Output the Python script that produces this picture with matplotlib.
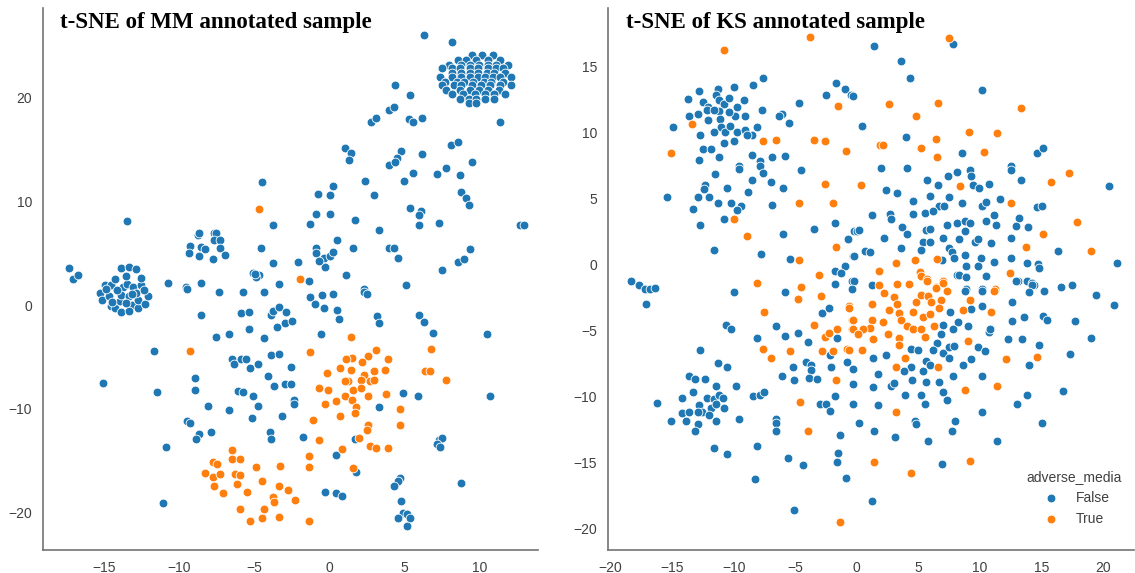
import numpy as np
import matplotlib.pyplot as plt

BLUE = "#1f77b4"
ORANGE = "#ff7f0e"

# t-SNE coordinates, (x, y)
mm_false = [
    # left blob
    (-15.3, 1.2), (-15.0, 1.9), (-14.6, 1.9), (-13.8, 1.7), (-13.5, 2.0), (-13.1, 1.7), (-12.6, 1.9),
    (-15.2, 0.5), (-14.7, 0.9), (-14.6, -0.1), (-14.3, -0.3), (-14.0, 0.4), (-13.9, 1.0), (-13.4, 0.9),
    (-13.2, 0.0), (-12.8, -0.3), (-12.8, 0.5), (-12.3, 0.1), (-12.1, 0.9), (-12.9, 1.2), (-13.9, -0.7),
    (-13.4, -0.6), (-13.9, 3.6), (-13.4, 3.7), (-12.9, 3.5), (-14.3, 2.5), (-13.6, 2.8), (-12.6, 2.6),
    (-14.9, 1.5), (-12.4, 1.4), (-14.2, 1.4), (-13.2, 1.1), (-13.6, 0.2), (-14.5, 0.3),
    # upper left
    (-17.4, 3.6), (-17.1, 2.5), (-16.8, 2.9), (-13.5, 8.1), (-10.8, 2.1), (-9.6, 1.7), (-9.5, 1.5),
    (-8.8, 6.7), (-8.7, 6.9), (-9.3, 5.7), (-8.6, 5.6), (-8.3, 5.4), (-9.4, 5.0), (-8.7, 4.7),
    (-7.7, 6.9), (-7.6, 6.9), (-7.7, 6.3), (-7.3, 6.3), (-7.3, 5.5), (-7.8, 4.4), (-7.0, 4.8),
    (-8.6, 2.1), (-7.4, 1.3), (-5.8, 1.3), (-4.5, 11.8), (-3.8, 7.7), (-4.6, 5.5), (-3.8, 4.0),
    (-3.4, 2.0), (-5.1, 3.1), (-4.7, 2.9), (-4.9, 2.7), (-5.0, 3.0), (-2.1, 4.1), (-4.4, 1.3), (-1.4, 2.3),
    # upper right blob
    (6.3, 26.0), (8.2, 25.3),
    (9.5, 24.1), (10.2, 24.1), (10.9, 24.1),
    (8.6, 23.6), (9.1, 23.6), (9.8, 23.6), (10.6, 23.6), (11.4, 23.6),
    (8.0, 23.1), (8.8, 23.1), (9.4, 23.1), (10.0, 23.1), (10.6, 23.1), (11.1, 23.1), (11.9, 23.1),
    (7.5, 22.8), (8.2, 22.8), (8.7, 22.8), (9.4, 22.8), (9.9, 22.8), (10.6, 22.8), (11.1, 22.8), (11.6, 22.8),
    (8.2, 22.3), (8.8, 22.3), (9.4, 22.3), (9.9, 22.3), (10.5, 22.3), (11.0, 22.3), (11.7, 22.3),
    (7.4, 22.0), (8.2, 22.0), (8.8, 22.0), (9.4, 22.0), (9.9, 22.0), (10.4, 22.0), (10.9, 22.0), (11.4, 22.0), (12.1, 22.0),
    (7.7, 21.5), (8.5, 21.5), (9.0, 21.5), (9.6, 21.5), (10.3, 21.5), (10.8, 21.5), (11.6, 21.5),
    (7.5, 21.2), (8.3, 21.2), (8.8, 21.2), (9.5, 21.2), (10.1, 21.2), (10.7, 21.2), (11.4, 21.2), (12.1, 21.2),
    (7.8, 20.7), (8.7, 20.7), (9.4, 20.7), (10.0, 20.7), (10.6, 20.7), (11.3, 20.7),
    (8.2, 20.3), (8.9, 20.3), (9.7, 20.3), (10.4, 20.3), (11.0, 20.3), (11.7, 20.3),
    (8.7, 19.8), (9.3, 19.8), (9.8, 19.8), (10.4, 19.8), (11.0, 19.8),
    (9.3, 19.5), (9.8, 19.5),
    # middle
    (4.4, 21.2), (5.4, 20.2), (4.0, 18.8), (4.3, 19.1), (2.8, 17.6), (3.1, 18.0), (5.3, 17.9), (5.6, 17.6),
    (6.2, 18.0), (11.4, 17.6), (1.0, 15.1), (1.4, 14.6), (1.3, 14.0), (4.8, 14.8), (4.5, 14.2), (4.0, 13.5),
    (4.4, 13.8), (6.2, 14.5), (8.1, 15.4), (8.6, 15.7), (9.5, 13.8), (5.6, 12.7), (5.0, 11.9), (7.2, 12.6),
    (7.8, 13.2), (8.7, 12.5), (2.4, 11.9), (0.2, 11.5), (0.0, 10.6), (-0.8, 10.7), (3.0, 10.6), (8.8, 10.9),
    (9.1, 10.3), (9.3, 9.6), (5.4, 9.3), (6.1, 9.1), (6.0, 8.7), (-0.9, 8.8), (0.0, 8.8), (-1.3, 7.8),
    (1.7, 8.2), (3.3, 7.2), (6.0, 7.7), (7.3, 7.9), (12.7, 7.7), (13.0, 7.7), (0.5, 6.3), (-0.9, 5.5),
    (-0.9, 5.0), (-0.4, 4.5), (0.0, 4.7), (0.2, 5.1), (-0.3, 3.7), (-0.7, 4.2), (1.6, 5.5), (4.0, 5.5),
    (4.3, 5.5), (4.6, 4.5), (9.4, 5.4), (8.6, 4.1), (9.0, 4.4), (1.1, 2.9), (7.5, 3.4), (5.1, 1.9), (2.3, 1.5),
    # lower left
    (-8.6, -1.0), (-5.9, -0.8), (-5.4, -0.7), (-5.4, -2.3), (-3.9, -1.0), (-3.8, -0.6), (-3.4, -0.2),
    (-2.9, -0.7), (-3.5, -2.1), (-3.0, -1.7), (-7.6, -3.1), (-6.7, -2.8), (-4.4, -3.2), (-11.7, -4.4),
    (-6.5, -5.2), (-6.4, -5.7), (-5.9, -5.2), (-5.6, -5.2), (-5.3, -6.1), (-4.8, -5.7), (-3.9, -4.8),
    (-3.4, -4.7), (-2.6, -6.0), (-4.1, -6.8), (-3.7, -7.8), (-3.0, -7.6), (-2.6, -7.6), (-15.1, -7.5),
    (-11.5, -8.4), (-9.0, -7.0), (-9.0, -8.2), (-6.1, -8.3), (-5.8, -8.4), (-5.1, -8.8), (-8.1, -9.7),
    (-6.7, -10.1), (-4.8, -9.7), (-5.2, -10.9), (-3.2, -10.7), (-9.5, -11.2), (-9.3, -11.4), (-7.9, -12.2),
    (-8.7, -12.4), (-8.9, -12.9), (-4.0, -12.2), (-3.9, -12.9), (-10.9, -13.7), (-11.1, -19.1),
    # lower right
    (2.3, 1.3), (2.5, 1.1), (0.2, 1.1), (-0.5, 1.0), (-1.3, 0.8), (-1.0, 0.1), (-0.4, -0.3), (0.5, -0.5),
    (0.6, -1.3), (-2.5, -1.5), (3.2, -1.1), (3.3, -1.7), (6.0, -1.0), (6.3, -1.6), (6.9, -2.7), (10.5, -2.8),
    (-0.6, -2.8), (4.9, -8.5), (5.9, -8.8), (3.3, -9.8), (10.7, -8.8), (-1.8, -12.7), (1.7, -12.9),
    (0.4, -14.4), (1.8, -16.1), (7.3, -13.0), (7.5, -12.8), (7.2, -13.4), (7.4, -13.7), (8.8, -17.1),
    (4.7, -16.7), (4.6, -16.9), (4.3, -17.4), (4.8, -18.9), (4.9, -20.0), (5.2, -20.1), (4.6, -20.5),
    (5.4, -20.5), (5.2, -21.3), (-0.3, -18.0), (0.4, -18.1), (0.8, -18.4), (-2.4, -9.1), (-2.4, -9.5),
]

mm_true = [
    (-4.7, 9.2), (-2.0, 2.5), (-9.3, -4.4),
    (-6.5, -14.0), (-6.5, -14.8), (-6.0, -14.8), (-7.8, -15.1), (-7.5, -15.3), (-8.3, -16.2), (-7.8, -16.6),
    (-7.3, -16.3), (-6.3, -16.3), (-6.0, -16.4), (-4.9, -15.6), (-3.3, -15.5), (-4.5, -16.9), (-6.2, -17.2),
    (-7.7, -17.4), (-7.1, -18.1), (-5.5, -18.0), (-3.4, -17.4), (-2.8, -17.8), (-3.8, -18.5), (-3.7, -19.0),
    (-6.0, -19.6), (-4.4, -19.6), (-3.4, -20.4), (-4.5, -20.5), (-5.3, -20.8),
    (1.4, -3.1), (-1.3, -4.5), (6.8, -4.2), (3.1, -4.3), (2.6, -4.9), (3.9, -5.2), (2.2, -5.5), (1.5, -5.1),
    (1.1, -5.2), (0.7, -6.1), (1.4, -6.3), (-0.2, -6.5), (2.3, -6.7), (3.0, -6.4), (3.7, -6.3), (2.1, -7.2),
    (2.7, -7.3), (3.0, -7.2), (1.2, -7.3), (1.0, -7.3), (-0.7, -8.0), (-0.1, -8.2), (1.6, -8.2), (2.1, -8.0),
    (1.0, -8.8), (2.6, -8.8), (3.8, -8.6), (0.4, -9.2), (1.5, -9.1), (-0.3, -9.5), (1.8, -9.8), (1.7, -10.4),
    (0.7, -10.7), (-1.1, -11.1), (4.7, -10.0), (4.7, -11.6), (2.6, -11.6), (2.5, -12.0), (2.0, -12.8),
    (2.7, -13.6), (3.1, -13.8), (3.9, -13.8), (0.8, -13.9), (-0.7, -13.0), (-1.4, -14.5), (-1.4, -15.6),
    (1.6, -15.7), (-2.3, -18.8), (-1.4, -20.8), (6.4, -6.4), (6.7, -6.4), (7.8, -7.2),
]

ks_false = [
    # upper left group
    (-14.9, 10.4), (-15.4, 5.1), (-13.7, 12.5), (-12.8, 13.1), (-13.6, 11.2), (-12.9, 11.4), (-12.5, 12.3),
    (-12.1, 11.9), (-12.2, 11.7), (-11.3, 13.3), (-11.4, 12.8), (-11.2, 12.4), (-10.8, 12.1), (-10.4, 12.6),
    (-10.0, 13.4), (-9.7, 11.9), (-9.2, 12.4), (-9.9, 11.2), (-10.4, 11.5), (-11.2, 11.6), (-11.6, 11.7),
    (-12.1, 10.9), (-11.1, 11.0), (-11.0, 10.4), (-10.7, 10.0), (-10.3, 10.5), (-9.7, 10.0), (-9.1, 11.2),
    (-9.1, 10.2), (-8.5, 9.8), (-8.9, 9.8), (-8.4, 13.6), (-7.6, 14.1), (-7.7, 11.7), (-8.1, 10.4),
    (-11.6, 10.0), (-12.7, 9.8), (-12.5, 8.7), (-11.8, 8.7), (-10.8, 9.2), (-10.0, 9.3), (-11.2, 8.1),
    (-12.8, 7.9), (-8.5, 8.3), (-7.9, 7.8), (-7.9, 7.4), (-7.6, 6.9), (-9.6, 7.4), (-9.6, 7.2), (-6.9, 8.1),
    (-5.8, 8.2), (-4.5, 7.1), (-11.5, 6.8), (-12.3, 6.0), (-12.4, 5.7), (-10.5, 5.8), (-8.5, 6.4),
    (-7.0, 6.2), (-6.0, 5.8), (-8.8, 5.5), (-12.9, 5.1), (-12.0, 5.1), (-11.3, 4.6), (-10.2, 4.6),
    (-9.4, 4.4), (-9.7, 4.1), (-13.3, 4.2), (-6.9, 4.5), (-10.8, 3.4), (-12.7, 3.0), (-11.6, 1.1),
    (-7.8, 0.8), (-6.0, 2.3), (-5.4, 0.4), (-3.5, 2.7), (-1.8, 3.1), (-0.7, 1.9), (-0.3, 0.6), (-1.0, -0.1),
    (-1.8, -0.5), (-1.3, -0.7), (-0.4, -1.3), (-1.8, -1.5), (-6.1, 11.4), (-6.3, 11.2), (-5.5, 10.7),
    (-4.7, 12.2), (-2.5, 12.8), (-1.7, 13.7), (-1.0, 13.3), (-0.5, 12.8), (-0.3, 12.7), (-0.2, 2.5),
    # upper right
    (1.4, 16.5), (7.8, 16.7), (3.6, 15.4), (4.3, 14.1), (10.2, 13.2), (0.4, 10.5), (4.0, 9.6), (8.5, 8.4),
    (14.6, 8.4), (15.1, 8.8), (2.0, 7.3), (4.1, 7.3), (5.7, 6.4), (6.6, 6.0), (7.4, 6.7), (8.1, 7.0),
    (9.2, 7.1), (9.3, 6.7), (9.4, 6.0), (9.9, 5.8), (10.7, 6.1), (12.5, 7.4), (12.5, 7.1), (13.3, 6.4),
    (20.5, 5.9), (2.4, 5.6), (3.3, 5.4), (4.6, 4.8), (5.9, 5.2), (6.7, 4.4), (7.1, 4.4), (7.5, 5.1),
    (8.5, 4.6), (10.2, 4.4), (10.5, 4.7), (11.6, 4.9), (14.6, 4.3), (15.0, 4.4), (1.2, 3.7), (2.7, 3.8),
    (2.8, 3.4), (4.6, 3.8), (5.5, 3.9), (6.2, 4.0), (7.3, 3.0), (8.1, 3.1), (8.8, 3.3), (9.2, 3.1),
    (10.5, 3.3), (11.1, 3.7), (11.3, 3.0), (13.2, 3.5), (12.9, 2.9), (13.9, 2.8), (0.0, 2.5), (0.2, 2.6),
    (3.7, 2.8), (4.1, 2.3), (5.6, 2.6), (5.9, 2.7), (8.8, 2.5), (2.2, 2.0), (5.4, 1.7), (5.9, 1.7),
    (7.0, 2.0), (8.3, 1.9), (9.6, 1.7), (9.8, 1.9), (10.9, 1.6), (12.5, 2.0), (16.3, 1.0), (21.1, 0.1),
    (3.6, 1.2), (5.2, 1.1), (7.5, 1.2), (7.7, 0.9), (7.9, 0.5), (6.9, 0.3), (8.8, 0.7), (10.1, 0.5),
    (11.1, 0.2), (12.5, 0.5), (13.8, 0.1), (14.7, 0.0), (14.8, -0.3), (-0.2, 0.6), (0.7, 1.0), (1.1, 0.9),
    (8.9, -0.1), (9.8, -0.1), (8.1, -0.8), (8.3, -0.8), (8.9, -1.0), (10.5, -0.9), (-0.2, -1.3), (1.2, -1.6),
    (13.1, -1.3), (13.8, -1.3), (14.2, -1.4), (14.4, -1.6), (16.6, -1.7), (17.5, -1.6), (8.9, -1.9), (10.2, -1.9),
    # lower left
    (-18.3, -1.3), (-17.7, -1.6), (-17.2, -1.9), (-16.8, -1.9), (-16.4, -1.8), (-17.1, -3.0), (-10.0, -2.1),
    (-5.8, -2.1), (-0.4, -1.9), (-2.8, -3.7), (-2.3, -3.3), (-10.6, -4.6), (-10.2, -4.9), (-6.6, -4.7),
    (-8.1, -5.6), (-5.8, -5.4), (-4.8, -5.2), (-4.0, -5.9), (-1.6, -5.6), (-2.2, -6.9), (-0.8, -7.4),
    (-0.3, -7.9), (-12.7, -6.5), (-11.3, -7.5), (-10.5, -7.8), (-13.6, -8.5), (-13.1, -8.7), (-12.3, -8.7),
    (-11.4, -9.2), (-9.8, -9.2), (-13.3, -9.7), (-14.2, -10.1), (-12.2, -10.1), (-11.6, -10.2),
    (-11.2, -9.9), (-10.9, -10.1), (-16.2, -10.5), (-12.8, -10.7), (-12.6, -11.2), (-11.8, -10.9),
    (-11.4, -10.6), (-10.8, -10.9), (-14.2, -11.3), (-13.6, -11.2), (-12.9, -11.2), (-12.0, -11.4),
    (-11.4, -11.9), (-15.1, -11.9), (-13.9, -11.9), (-12.9, -12.1), (-9.6, -11.7), (-13.1, -12.6),
    (-11.6, -13.9), (-10.5, -14.4), (-6.1, -8.5), (-5.1, -8.8), (-5.2, -7.8), (-4.1, -7.4), (-3.7, -7.6),
    (-3.7, -8.0), (-3.9, -8.6), (-3.2, -8.7), (-2.1, -7.8), (-0.3, -9.1), (-8.4, -10.0), (-7.9, -9.9),
    (-7.5, -9.7), (-3.0, -10.6), (-2.5, -10.6), (-2.2, -11.1), (-1.8, -10.0), (-0.3, -10.6), (-6.6, -11.7),
    (-6.6, -12.0), (-6.6, -12.6), (-1.4, -12.9), (-8.1, -13.8), (-1.5, -14.3), (-1.6, -15.0), (-5.6, -14.7),
    (-4.4, -15.2), (-0.9, -16.2), (-8.3, -16.3), (-5.1, -18.6),
    # lower right
    (12.9, -1.3), (14.2, -1.6), (14.0, -2.1), (15.2, -2.0), (19.4, -2.3), (20.9, -3.1), (8.8, -2.0),
    (10.2, -2.0), (7.6, -3.6), (8.2, -4.4), (7.8, -4.9), (7.0, -4.6), (6.8, -5.3), (9.0, -4.7), (9.3, -3.4),
    (10.2, -3.2), (10.7, -5.1), (10.8, -4.9), (12.6, -2.9), (12.6, -4.3), (13.6, -4.0), (15.1, -3.9),
    (15.4, -4.2), (17.7, -4.3), (12.3, -5.7), (13.4, -5.7), (14.8, -6.1), (19.0, -5.6), (17.3, -6.8),
    (14.0, -7.6), (6.5, -6.0), (6.2, -6.5), (7.0, -6.7), (7.5, -6.3), (7.9, -6.2), (4.4, -6.4), (5.0, -6.5),
    (5.6, -7.3), (5.9, -7.6), (5.4, -8.1), (4.4, -7.8), (3.8, -8.1), (4.5, -8.8), (5.6, -8.9), (6.7, -8.9),
    (7.5, -7.1), (8.6, -7.6), (9.3, -7.2), (9.8, -6.3), (10.4, -6.6), (7.8, -8.5), (10.2, -8.5), (2.4, -6.9),
    (1.3, -7.1), (1.7, -8.3), (1.3, -9.3), (2.8, -9.2), (3.0, -9.0), (3.9, -9.9), (5.2, -9.9), (7.0, -9.7),
    (7.3, -10.3), (5.5, -10.6), (1.7, -10.7), (0.2, -12.0), (1.4, -12.6), (4.7, -11.9), (4.8, -12.1),
    (8.0, -11.9), (7.7, -12.6), (10.2, -11.2), (13.8, -9.9), (13.0, -10.6), (16.7, -9.6), (15.0, -12.0),
    (3.1, -13.1), (5.8, -13.4), (11.4, -13.4), (6.9, -15.1), (1.2, -17.9),
]

ks_true = [
    (-10.8, 16.2), (-3.8, 17.2), (-13.4, 10.6), (-15.1, 8.4), (-7.6, 9.3), (-6.6, 9.4), (-3.5, 9.4),
    (-2.6, 9.3), (-1.5, 12.0), (-0.9, 8.6), (-2.6, 6.1), (-4.7, 4.6), (-1.9, 4.6), (-10.0, 3.4), (-8.9, 2.1),
    (-1.7, 1.3), (-4.7, 0.3), (-3.1, -0.8), (-8.1, -1.4), (-4.5, -1.7),
    (7.5, 17.1), (2.6, 12.1), (6.6, 12.2), (4.8, 11.2), (13.3, 11.8), (9.1, 10.0), (11.4, 9.9), (6.4, 9.5),
    (1.9, 9.0), (2.1, 9.0), (5.2, 8.8), (6.5, 8.1), (10.3, 8.5), (0.3, 6.0), (8.4, 5.9), (17.2, 6.9),
    (15.8, 6.2), (12.5, 4.6), (17.9, 3.2), (15.1, 2.3), (13.7, 1.3), (19.0, 1.0), (6.5, 0.4), (3.2, 0.1),
    (1.8, -0.5), (4.7, 0.3), (5.1, -0.6), (5.2, -0.9), (5.7, -1.1), (12.4, -0.7), (1.8, -1.6), (3.3, -1.5),
    (4.2, -1.5), (6.4, -1.7), (7.0, -1.3), (11.2, -1.9),
    (-4.8, -2.6), (-2.9, -2.4), (-0.6, -3.2), (-0.4, -4.2), (-0.4, -4.9), (-7.5, -3.6), (-3.5, -4.6),
    (-1.6, -4.9), (-2.6, -5.5), (-2.3, -5.2), (-7.6, -6.4), (-7.0, -7.1), (-5.4, -6.6), (-2.8, -6.6),
    (-1.9, -6.6), (-0.8, -6.4), (-1.7, -8.8), (-4.6, -10.4), (-4.0, -12.6), (-1.4, -19.5),
    (5.7, -1.3), (6.4, -1.8), (7.0, -1.4), (7.3, -2.0), (6.8, -2.7), (6.7, -3.3), (2.2, -2.2), (3.0, -2.5),
    (3.3, -3.0), (2.6, -3.5), (3.4, -3.7), (3.6, -4.2), (4.1, -4.7), (4.6, -4.9), (5.2, -4.9), (5.5, -5.5),
    (6.3, -4.7), (4.8, -2.9), (5.2, -2.3), (5.8, -2.4), (6.0, -2.9), (4.6, -3.6), (5.4, -4.0), (5.9, -3.8),
    (1.2, -3.0), (-0.6, -3.3), (-0.3, -4.2), (1.2, -4.2), (1.1, -4.8), (2.1, -4.4), (0.5, -4.9), (-0.3, -4.9),
    (0.1, -5.3), (2.5, -5.3), (1.3, -5.7), (3.4, -5.6), (3.4, -6.1), (0.4, -6.5), (-0.6, -6.5), (3.9, -7.1),
    (3.2, -7.8), (6.6, -7.8), (9.0, -5.8), (8.6, -3.5), (9.2, -2.7), (10.9, -3.6), (11.1, -2.0), (12.1, -7.2),
    (14.6, -7.0), (8.8, -9.5), (11.4, -9.2), (3.2, -11.2), (1.4, -15.0), (4.4, -15.8), (9.2, -14.9),
]

mm_xticks = [-15, -10, -5, 0, 5, 10]
mm_yticks = [-20, -10, 0, 10, 20]
ks_xticks = [-20, -15, -10, -5, 0, 5, 10, 15, 20]
ks_yticks = [-20, -15, -10, -5, 0, 5, 10, 15]

plt.rcParams['font.family'] = ['Liberation Sans', 'DejaVu Sans']

fig = plt.figure(figsize=(11.35, 5.73), dpi=100)
ax1 = fig.add_axes([0.0379, 0.040, 0.4361, 0.946])
ax2 = fig.add_axes([0.5357, 0.040, 0.4634, 0.946])


def draw(ax, false_pts, true_pts, title, xlim, ylim, xticks, yticks):
    f = np.array(false_pts)
    t = np.array(true_pts)
    ax.scatter(f[:, 0], f[:, 1], s=40, color=BLUE, edgecolors="white", linewidths=0.6, label="False")
    ax.scatter(t[:, 0], t[:, 1], s=40, color=ORANGE, edgecolors="white", linewidths=0.6, label="True")
    ax.set_xlim(*xlim)
    ax.set_ylim(*ylim)
    ax.set_xticks(xticks)
    ax.set_yticks(yticks)
    ax.xaxis.set_major_formatter(plt.FuncFormatter(lambda v, p: f"{v:.0f}".replace("-", "\u2212")))
    ax.yaxis.set_major_formatter(plt.FuncFormatter(lambda v, p: f"{v:.0f}".replace("-", "\u2212")))
    for side in ["top", "right"]:
        ax.spines[side].set_visible(False)
    for side in ["left", "bottom"]:
        ax.spines[side].set_color("0.45")
        ax.spines[side].set_linewidth(1.2)
    ax.tick_params(length=0, labelsize=10, labelcolor="0.25", pad=8)
    ax.text(0.034, 0.974, title, transform=ax.transAxes, fontsize=16.5, fontweight="bold",
            family="Liberation Serif", va="center", ha="left")


draw(ax1, mm_false, mm_true, "t-SNE of MM annotated sample", (-19.1, 13.9), (-23.6, 28.6), mm_xticks, mm_yticks)
draw(ax2, ks_false, ks_true, "t-SNE of KS annotated sample", (-20.2, 22.5), (-21.65, 19.4), ks_xticks, ks_yticks)

leg = ax2.legend(title="adverse_media", frameon=False, loc="lower right", bbox_to_anchor=(1.0, 0.022),
                 fontsize=10, title_fontsize=10, handletextpad=0.8)
for txt in leg.get_texts():
    txt.set_color("0.25")
leg.get_title().set_color("0.25")

fig.savefig("out.png", dpi=100)
